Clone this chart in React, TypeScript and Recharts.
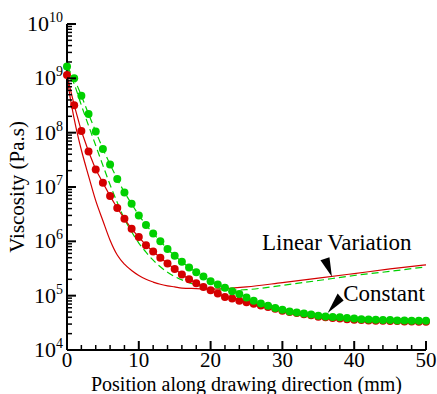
import React from 'react';
import { ComposedChart, Line, XAxis, YAxis, ReferenceDot } from 'recharts';

const RED = '#d40000';
const GREEN = '#00d000';
const FONT = 'Liberation Serif, Times New Roman, serif';
const txt = { fontFamily: FONT, fill: '#000' };

// dot series, one point per mm
const positions = [
  0, 1, 2, 3, 4, 5, 6, 7, 8, 9, 10, 11, 12, 13, 14, 15, 16, 17, 18, 19, 20, 21, 22, 23, 24, 25,
  26, 27, 28, 29, 30, 31, 32, 33, 34, 35, 36, 37, 38, 39, 40, 41, 42, 43, 44, 45, 46, 47, 48, 49, 50,
];
const redConstant = [
  1.15e9, 3.2e8, 1.07e8, 4.5e7, 2.1e7, 1.2e7, 6.8e6, 4.1e6, 2.6e6, 1.7e6, 1.2e6, 8.5e5, 6.5e5,
  5.0e5, 3.9e5, 3.1e5, 2.45e5, 2.0e5, 1.7e5, 1.45e5, 1.26e5, 1.1e5, 9.5e4, 8.9e4, 8.1e4, 7.6e4,
  7.1e4, 6.6e4, 6.2e4, 5.75e4, 5.25e4, 5.0e4, 4.8e4, 4.55e4, 4.35e4, 4.1e4, 4.0e4, 3.9e4, 3.8e4,
  3.7e4, 3.6e4, 3.55e4, 3.5e4, 3.45e4, 3.45e4, 3.4e4, 3.4e4, 3.35e4, 3.35e4, 3.3e4, 3.3e4,
];
const greenConstant = [
  1.65e9, 1.0e9, 4.8e8, 2.2e8, 1.05e8, 5.0e7, 2.6e7, 1.4e7, 7.9e6, 4.9e6, 3.0e6, 2.0e6, 1.4e6,
  1.0e6, 7.2e5, 5.4e5, 4.2e5, 3.3e5, 2.7e5, 2.25e5, 1.85e5, 1.6e5, 1.4e5, 1.2e5, 1.07e5, 9.3e4,
  8.1e4, 7.2e4, 6.5e4, 5.9e4, 5.5e4, 5.1e4, 4.9e4, 4.7e4, 4.5e4, 4.25e4, 4.15e4, 4.05e4, 4.0e4,
  3.9e4, 3.8e4, 3.7e4, 3.65e4, 3.6e4, 3.55e4, 3.55e4, 3.5e4, 3.5e4, 3.45e4, 3.45e4, 3.45e4,
];

// linear variation curves
const redLinearX = [0, 0.5, 1, 1.5, 2, 3, 4, 5, 6, 7, 8, 9, 10, 11, 12, 13, 14, 15, 16, 18, 20, 22, 25, 30, 35, 40, 45, 50];
const redLinear = [
  1.12e9, 4.0e8, 1.8e8, 8.9e7, 4.8e7, 1.6e7, 5.6e6, 2.4e6, 1.05e6, 5.6e5, 3.8e5, 2.9e5, 2.35e5,
  2.0e5, 1.78e5, 1.62e5, 1.52e5, 1.45e5, 1.38e5, 1.35e5, 1.32e5, 1.35e5, 1.45e5, 1.74e5, 2.1e5,
  2.55e5, 3.1e5, 3.7e5,
];
const greenLinearX = [0, 1, 2, 3, 4, 5, 6, 7, 8, 9, 10, 11, 12, 13, 14, 15, 16, 17, 18, 19, 20, 21, 22, 23, 25, 30, 35, 40, 45, 50];
const greenLinear = [
  1.6e9, 7.9e8, 3.2e8, 1.35e8, 5.8e7, 2.5e7, 1.1e7, 5.2e6, 2.6e6, 1.5e6, 9.3e5, 6.3e5, 4.5e5,
  3.4e5, 2.7e5, 2.25e5, 1.95e5, 1.74e5, 1.58e5, 1.45e5, 1.35e5, 1.29e5, 1.26e5, 1.26e5, 1.29e5,
  1.55e5, 1.9e5, 2.35e5, 2.8e5, 3.4e5,
];

const xTicks = [0, 2, 4, 6, 8, 10, 12, 14, 16, 18, 20, 22, 24, 26, 28, 30, 32, 34, 36, 38, 40, 42, 44, 46, 48, 50];
const decades = [1e4, 1e5, 1e6, 1e7, 1e8, 1e9, 1e10];
const minorSteps = [2, 3, 4, 5, 6, 7, 8, 9];
const yTicks = decades.concat(
  decades.slice(0, -1).flatMap(d => minorSteps.map(m => m * d))
).sort((a, b) => a - b);

const toRows = (xs: number[], vs: number[]) => xs.map((x, i) => ({ x, v: vs[i] }));

const YTick = (props: any) => {
  const { x, y, payload } = props;
  const v = payload.value;
  const exp = Math.round(Math.log10(v));
  const major = Math.abs(v - Math.pow(10, exp)) < v * 1e-6;
  return (
    <g>
      <line x1={x} x2={x + (major ? 9 : 5)} y1={y} y2={y} stroke="#000" strokeWidth={major ? 2 : 1.5} />
      {major && (
        <text x={x - 4} y={y + 7} textAnchor="end" style={{ ...txt, fontSize: 22 }}>
          10<tspan dy={-9} style={{ fontSize: 14 }}>{exp}</tspan>
        </text>
      )}
    </g>
  );
};

const XTick = (props: any) => {
  const { x, y, payload } = props;
  const major = payload.value % 10 === 0;
  return (
    <g>
      <line x1={x} x2={x} y1={y} y2={y - (major ? 9 : 5)} stroke="#000" strokeWidth={major ? 2 : 1.5} />
      {major && (
        <text x={x} y={y + 17} textAnchor="middle" style={{ ...txt, fontSize: 21 }}>
          {payload.value}
        </text>
      )}
    </g>
  );
};

const LinearArrow = (props: any) => {
  const { cx, cy } = props;
  return (
    <g>
      <polygon points={`${cx},${cy} ${cx - 11.5},${cy - 16.5} ${cx - 2.5},${cy - 19.5}`} fill="#000" />
      <text x={cx - 70} y={cy - 27} style={{ ...txt, fontSize: 23 }}>Linear Variation</text>
    </g>
  );
};

const ConstantArrow = (props: any) => {
  const { cx, cy } = props;
  return (
    <g>
      <polygon points={`${cx},${cy} ${cx + 10},${cy - 19.5} ${cx + 16},${cy - 12.5}`} fill="#000" />
      <text x={cx + 15.5} y={cy - 12} style={{ ...txt, fontSize: 23 }}>Constant</text>
    </g>
  );
};

export default function App() {
  return (
    <div style={{ position: 'absolute', left: 0, top: 0, background: '#fff', fontFamily: FONT }}>
      <ComposedChart width={437} height={394} margin={{ top: 24, right: 11, left: 0, bottom: 0 }}>
        <XAxis
          type="number"
          dataKey="x"
          domain={[0, 50]}
          ticks={xTicks}
          interval={0}
          height={44}
          tickSize={0}
          tickMargin={0}
          tickLine={false}
          axisLine={{ stroke: '#000', strokeWidth: 2 }}
          tick={<XTick />}
          label={{
            content: (p: any) => (
              <text
                x={p.viewBox.x + p.viewBox.width / 2}
                y={391}
                textAnchor="middle"
                style={{ ...txt, fontSize: 20 }}
              >
                Position along drawing direction (mm)
              </text>
            ),
          }}
        />
        <YAxis
          type="number"
          scale="log"
          domain={[1e4, 1e10]}
          allowDataOverflow
          ticks={yTicks}
          interval={0}
          width={67}
          tickSize={0}
          tickMargin={0}
          tickLine={false}
          axisLine={{ stroke: '#000', strokeWidth: 2 }}
          tick={<YTick />}
          label={{
            content: (p: any) => {
              const cy = p.viewBox.y + p.viewBox.height / 2;
              return (
                <text
                  x={24}
                  y={cy}
                  transform={`rotate(-90 24 ${cy})`}
                  textAnchor="middle"
                  style={{ ...txt, fontSize: 21 }}
                >
                  Viscosity (Pa.s)
                </text>
              );
            },
          }}
        />
        <Line
          data={toRows(redLinearX, redLinear)}
          dataKey="v"
          type="monotone"
          stroke={RED}
          strokeWidth={1.2}
          dot={false}
          activeDot={false}
          isAnimationActive={false}
        />
        <Line
          data={toRows(greenLinearX, greenLinear)}
          dataKey="v"
          type="monotone"
          stroke={GREEN}
          strokeWidth={1.2}
          strokeDasharray="7 4"
          dot={false}
          activeDot={false}
          isAnimationActive={false}
        />
        <Line
          data={toRows(positions, redConstant)}
          dataKey="v"
          type="linear"
          stroke={RED}
          strokeWidth={1.2}
          dot={{ r: 4, fill: RED, stroke: 'none', strokeWidth: 0 }}
          activeDot={false}
          isAnimationActive={false}
        />
        <Line
          data={toRows(positions, greenConstant)}
          dataKey="v"
          type="linear"
          stroke={GREEN}
          strokeWidth={1.2}
          strokeDasharray="7 4"
          dot={{ r: 4, fill: GREEN, stroke: 'none', strokeWidth: 0 }}
          activeDot={false}
          isAnimationActive={false}
        />
        <ReferenceDot x={36.9} y={2.24e5} r={0} shape={<LinearArrow />} />
        <ReferenceDot x={36.3} y={4.8e4} r={0} shape={<ConstantArrow />} />
      </ComposedChart>
    </div>
  );
}
